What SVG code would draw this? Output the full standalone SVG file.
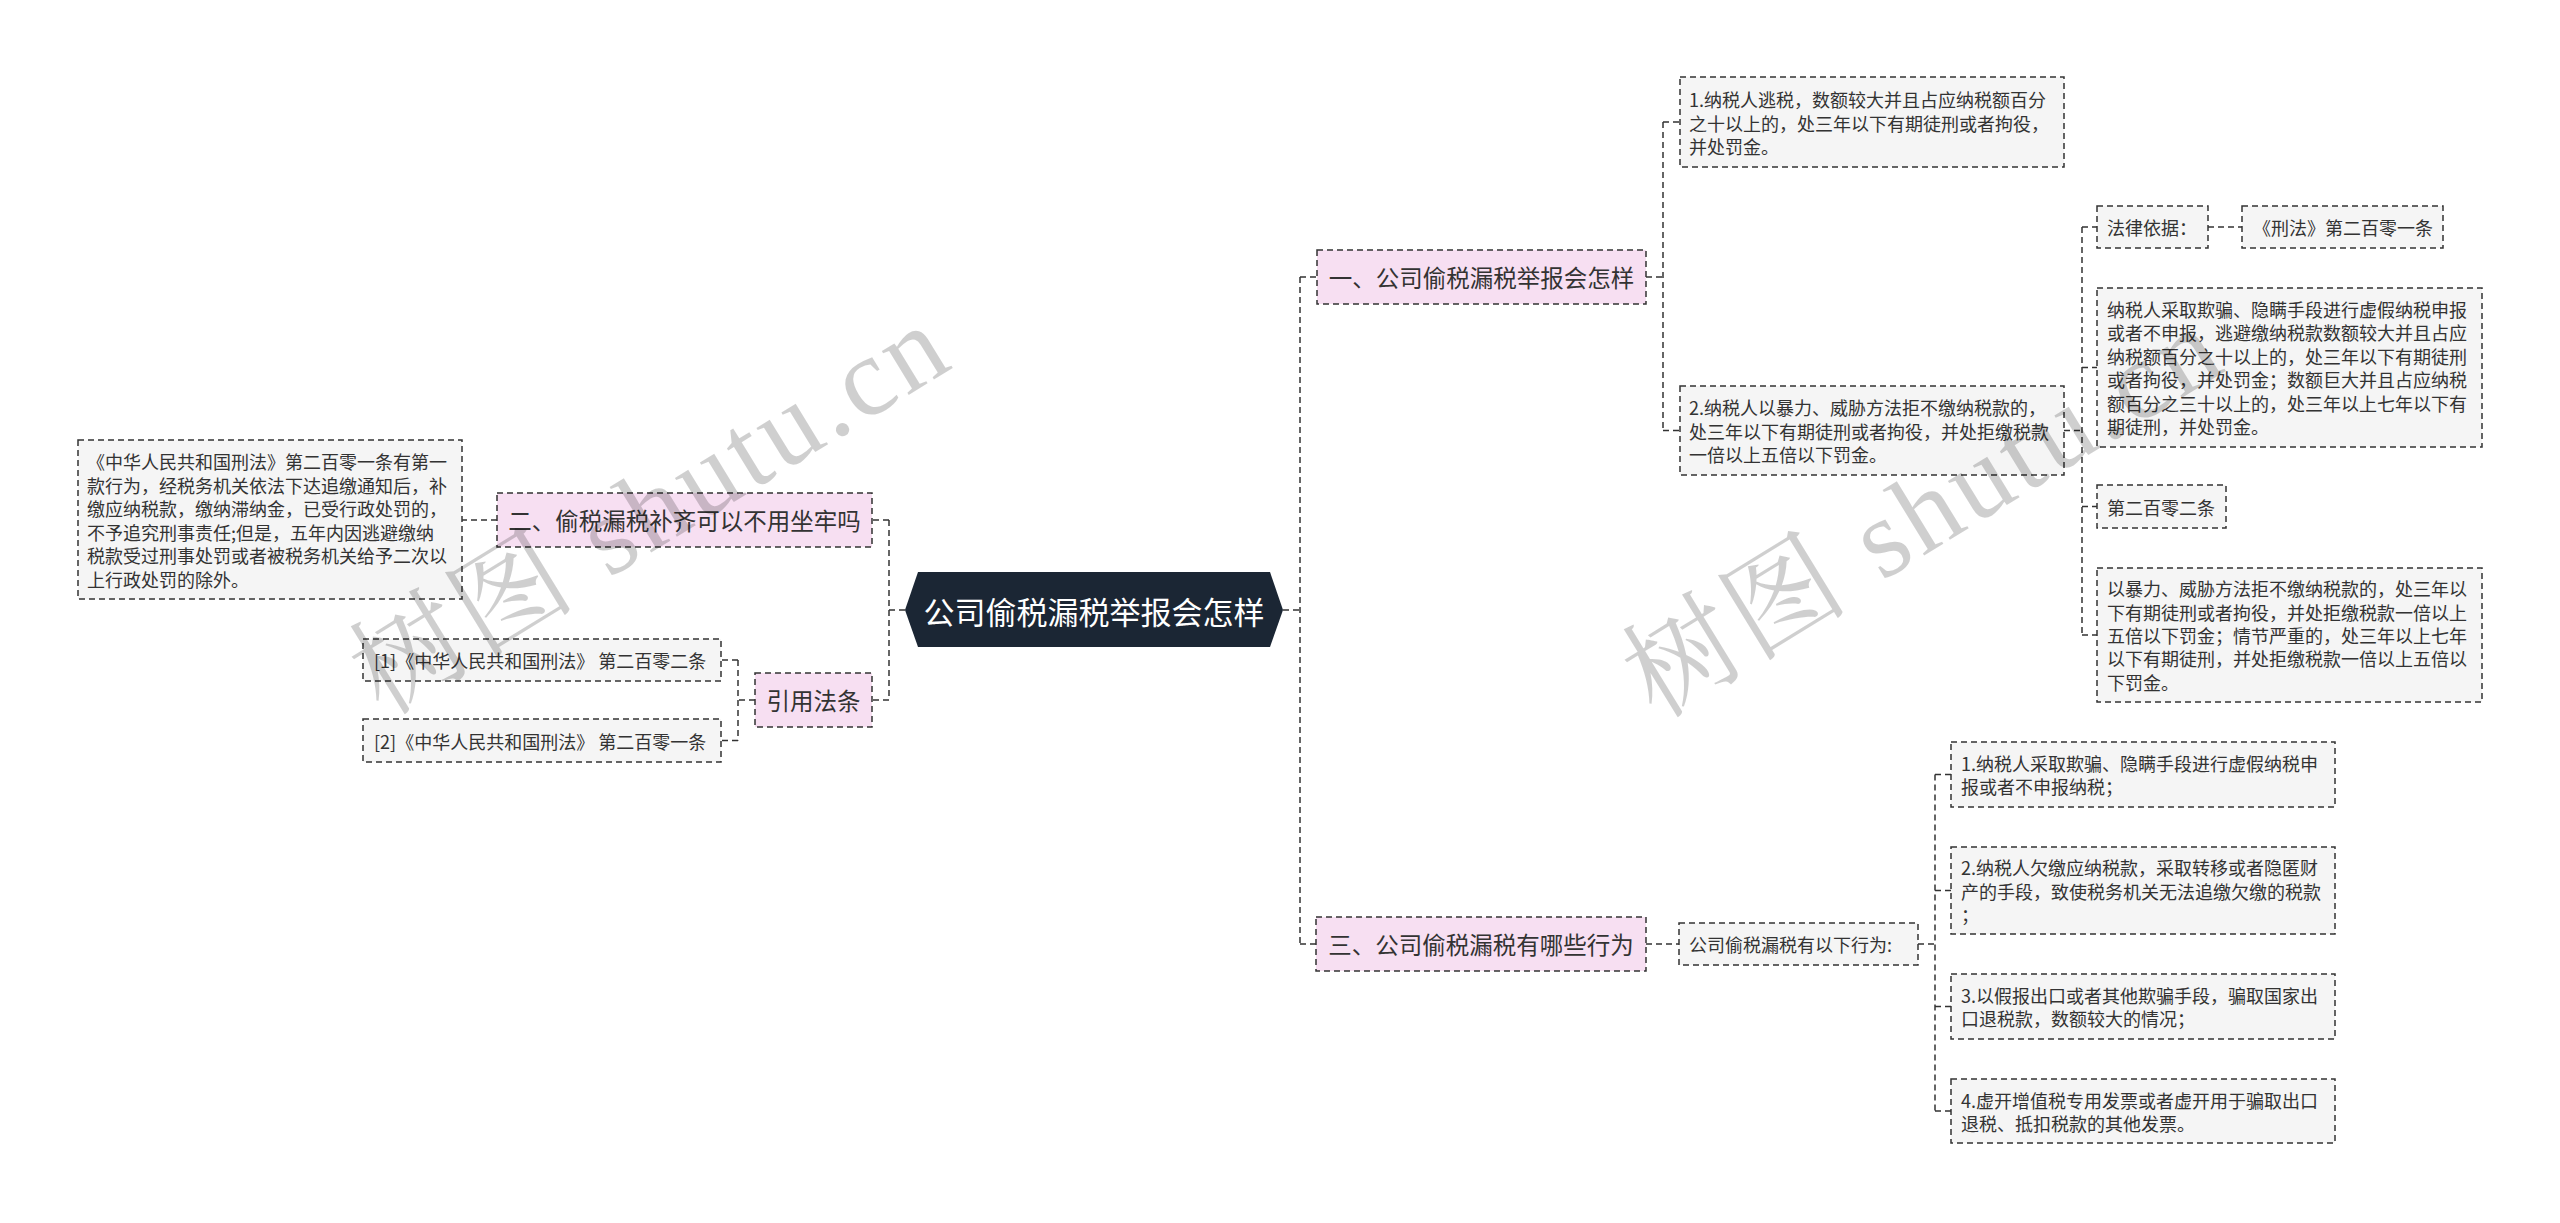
<svg xmlns="http://www.w3.org/2000/svg" width="2560" height="1223" viewBox="0 0 2560 1223">
<style>
.box{fill:#f5f5f5;stroke:#333;stroke-width:1.5;stroke-dasharray:6 4}
.pink{fill:#f7dff2;stroke:#333;stroke-width:1.5;stroke-dasharray:6 4}
.t{font-family:"Noto Sans CJK SC","Noto Sans",sans-serif;font-size:18px;fill:#333;dominant-baseline:central}
.t2{font-family:"Noto Sans CJK SC","Noto Sans",sans-serif;font-size:23.5px;fill:#333;dominant-baseline:central;text-anchor:middle}
.conn{fill:none;stroke:#333;stroke-width:1.5;stroke-dasharray:6 4}
.wm{font-family:"Liberation Serif","Noto Serif CJK SC","Noto Sans CJK SC",serif;font-size:112px;fill:#000;fill-opacity:0.19}
</style>
<rect width="2560" height="1223" fill="#fff"/>
<g id="connectors">
<path class="conn" d="M905,610 H889 M889,520 V700 M889,520 H872 M889,700 H872"/>
<path class="conn" d="M497,520 H462"/>
<path class="conn" d="M755,700 H738 M738,660 V740.5 M738,660 H721 M738,740.5 H721"/>
<path class="conn" d="M1283,610 H1300 M1300,277 V944 M1300,277 H1317 M1300,944 H1316"/>
<path class="conn" d="M1646,277 H1663 M1663,122 V430.5 M1663,122 H1680 M1663,430.5 H1680"/>
<path class="conn" d="M2064,430.5 H2082 M2082,227 V635 M2082,227 H2097 M2082,367.5 H2097 M2082,506.5 H2097 M2082,635 H2097"/>
<path class="conn" d="M2208,227 H2242"/>
<path class="conn" d="M1646,944 H1679"/>
<path class="conn" d="M1918,944 H1935 M1935,774.5 V1111 M1935,774.5 H1951 M1935,890.5 H1951 M1935,1006.5 H1951 M1935,1111 H1951"/>
</g>
<g id="root">
<polygon points="905,610 918,572 1270,572 1283,610 1270,647 918,647" fill="#1b2634"/>
<text x="1094" y="610" font-family="Noto Sans CJK SC,Noto Sans,sans-serif" font-size="31" fill="#fff" text-anchor="middle" dominant-baseline="central">公司偷税漏税举报会怎样</text>
</g>
<g id="n2">
<rect class="pink" x="497" y="493" width="375" height="54"/>
<text class="t2" x="684.5" y="520">二、偷税漏税补齐可以不用坐牢吗</text>
</g>
<g id="n2a">
<rect class="box" x="78" y="440" width="384" height="159"/>
<text class="t" x="87"><tspan x="87" y="461">《中华人民共和国刑法》第二百零一条有第一</tspan><tspan x="87" y="484.5">款行为，经税务机关依法下达追缴通知后，补</tspan><tspan x="87" y="508">缴应纳税款，缴纳滞纳金，已受行政处罚的，</tspan><tspan x="87" y="531.5">不予追究刑事责任;但是，五年内因逃避缴纳</tspan><tspan x="87" y="555">税款受过刑事处罚或者被税务机关给予二次以</tspan><tspan x="87" y="578.5">上行政处罚的除外。</tspan></text>
</g>
<g id="nref">
<rect class="pink" x="755" y="673" width="117" height="54"/>
<text class="t2" x="813.5" y="700">引用法条</text>
</g>
<g id="ref1">
<rect class="box" x="363" y="639" width="358" height="42"/>
<text class="t" x="374" y="660">[1]《中华人民共和国刑法》 第二百零二条</text>
</g>
<g id="ref2">
<rect class="box" x="363" y="719" width="358" height="43"/>
<text class="t" x="374" y="740.5">[2]《中华人民共和国刑法》 第二百零一条</text>
</g>
<g id="n1">
<rect class="pink" x="1317" y="250" width="329" height="54"/>
<text class="t2" x="1481.5" y="277">一、公司偷税漏税举报会怎样</text>
</g>
<g id="n1a">
<rect class="box" x="1680" y="77" width="384" height="90"/>
<text class="t"><tspan x="1689" y="99">1.纳税人逃税，数额较大并且占应纳税额百分</tspan><tspan x="1689" y="122.5">之十以上的，处三年以下有期徒刑或者拘役，</tspan><tspan x="1689" y="146">并处罚金。</tspan></text>
</g>
<g id="n1b">
<rect class="box" x="1680" y="386" width="384" height="89"/>
<text class="t"><tspan x="1689" y="407">2.纳税人以暴力、威胁方法拒不缴纳税款的，</tspan><tspan x="1689" y="430.5">处三年以下有期徒刑或者拘役，并处拒缴税款</tspan><tspan x="1689" y="454">一倍以上五倍以下罚金。</tspan></text>
</g>
<g id="n1b1">
<rect class="box" x="2097" y="206" width="111" height="42"/>
<text class="t" x="2107" y="227">法律依据：</text>
</g>
<g id="n1b1a">
<rect class="box" x="2242" y="206" width="201" height="42"/>
<text class="t" x="2253" y="227">《刑法》第二百零一条</text>
</g>
<g id="n1b2">
<rect class="box" x="2097" y="288" width="385" height="159"/>
<text class="t"><tspan x="2107" y="309">纳税人采取欺骗、隐瞒手段进行虚假纳税申报</tspan><tspan x="2107" y="332.4">或者不申报，逃避缴纳税款数额较大并且占应</tspan><tspan x="2107" y="355.8">纳税额百分之十以上的，处三年以下有期徒刑</tspan><tspan x="2107" y="379.2">或者拘役，并处罚金；数额巨大并且占应纳税</tspan><tspan x="2107" y="402.6">额百分之三十以上的，处三年以上七年以下有</tspan><tspan x="2107" y="426">期徒刑，并处罚金。</tspan></text>
</g>
<g id="n1b3">
<rect class="box" x="2097" y="485" width="129" height="43"/>
<text class="t" x="2107" y="506.5">第二百零二条</text>
</g>
<g id="n1b4">
<rect class="box" x="2097" y="568" width="385" height="134"/>
<text class="t"><tspan x="2107" y="588.2">以暴力、威胁方法拒不缴纳税款的，处三年以</tspan><tspan x="2107" y="611.6">下有期徒刑或者拘役，并处拒缴税款一倍以上</tspan><tspan x="2107" y="635">五倍以下罚金；情节严重的，处三年以上七年</tspan><tspan x="2107" y="658.4">以下有期徒刑，并处拒缴税款一倍以上五倍以</tspan><tspan x="2107" y="681.8">下罚金。</tspan></text>
</g>
<g id="n3">
<rect class="pink" x="1316" y="917" width="330" height="54"/>
<text class="t2" x="1481" y="944">三、公司偷税漏税有哪些行为</text>
</g>
<g id="n3a">
<rect class="box" x="1679" y="923" width="239" height="42"/>
<text class="t" x="1689" y="944">公司偷税漏税有以下行为:</text>
</g>
<g id="n3a1">
<rect class="box" x="1951" y="742" width="384" height="65"/>
<text class="t"><tspan x="1961" y="763">1.纳税人采取欺骗、隐瞒手段进行虚假纳税申</tspan><tspan x="1961" y="786.4">报或者不申报纳税；</tspan></text>
</g>
<g id="n3a2">
<rect class="box" x="1951" y="847" width="384" height="87"/>
<text class="t"><tspan x="1961" y="867.1">2.纳税人欠缴应纳税款，采取转移或者隐匿财</tspan><tspan x="1961" y="890.5">产的手段，致使税务机关无法追缴欠缴的税款</tspan><tspan x="1961" y="913.9">；</tspan></text>
</g>
<g id="n3a3">
<rect class="box" x="1951" y="974" width="384" height="65"/>
<text class="t"><tspan x="1961" y="995">3.以假报出口或者其他欺骗手段，骗取国家出</tspan><tspan x="1961" y="1018.4">口退税款，数额较大的情况；</tspan></text>
</g>
<g id="n3a4">
<rect class="box" x="1951" y="1079" width="384" height="64"/>
<text class="t"><tspan x="1961" y="1099.5">4.虚开增值税专用发票或者虚开用于骗取出口</tspan><tspan x="1961" y="1122.9">退税、抵扣税款的其他发票。</tspan></text>
</g>
<g id="watermark">
<text class="wm" x="383" y="717" transform="rotate(-31.5 383 717)" textLength="670" lengthAdjust="spacing">树图 shutu.cn</text>
<text class="wm" x="1656" y="720" transform="rotate(-31.5 1656 720)" textLength="670" lengthAdjust="spacing">树图 shutu.cn</text>
</g>
</svg>
